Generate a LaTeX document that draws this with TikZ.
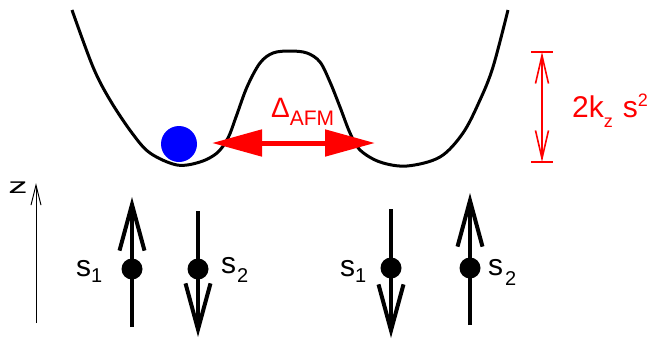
\documentclass[tikz,border=0pt]{standalone}
\usepackage{fontspec}
\setmainfont{Liberation Sans}
\usetikzlibrary{arrows.meta}
\begin{document}
\begin{tikzpicture}[x=1pt,y=-1pt,
  spinarrow/.style={line width=4pt,-{Straight Barb[length=46pt,width=25pt]}},
  spindot/.style={circle,fill=black,inner sep=0pt,minimum size=21pt},
  spinlbl/.style={inner sep=0pt,anchor=base west,font=\fontsize{30}{32}\selectfont},
  redtxt/.style={inner sep=0pt,anchor=base west,text=red}]
\useasboundingbox (0,0) rectangle (651,338);
% potential curve
\draw[line width=3pt,line join=round] plot[smooth,tension=0.55] coordinates {
 (72,10) (93,67) (110,100) (132,133) (150,153) (177,165) (200,162) (217,153)
 (228,138) (236,117) (247,87) (260,63) (273,53) (290,51) (307,53) (320,62)
 (330,82) (340,107) (350,133) (360,150) (380,162) (407,166) (440,157)
 (463,133) (480,100) (493,67) (508,10)};
% ball
\node[circle,fill=blue,inner sep=0pt,minimum size=36pt] (ball) at (179,144) {};
% Delta AFM arrow
\coordinate (dL) at (212,143);
\coordinate (dR) at (375,143);
\draw[red,line width=5pt,{Triangle[length=50pt,width=26pt]}-{Triangle[length=50pt,width=26pt]}] (dL) -- (dR);
\node[redtxt,font=\fontsize{28}{30}\selectfont] (delta) at (271,117)
  {Δ\raisebox{-8pt}{\fontsize{21}{21}\selectfont AFM}};
% 2kz s^2 bar
\coordinate (bT) at (542,52);
\coordinate (bB) at (542,162);
\coordinate (bTl) at (531,52); \coordinate (bTr) at (553,52);
\coordinate (bBl) at (531,162); \coordinate (bBr) at (553,162);
\draw[red,line width=2pt] (bTl) -- (bTr);
\draw[red,line width=2pt] (bBl) -- (bBr);
\draw[red,line width=1.6pt,{Straight Barb[length=28pt,width=13pt]}-{Straight Barb[length=28pt,width=13pt]}] (bT) -- (bB);
\node[redtxt,font=\fontsize{30}{32}\selectfont] (energy) at (572,117)
  {2k\raisebox{-10pt}{\fontsize{18}{18}\selectfont z}\hspace{10pt}s\raisebox{11pt}{\fontsize{18}{18}\selectfont 2}};
% z axis
\coordinate (zB) at (36,323);
\coordinate (zT) at (36,183);
\draw[line width=1pt,-{Straight Barb[length=20pt,width=10pt]}] (zB) -- (zT);
\node[inner sep=0pt,anchor=base,font=\fontsize{22}{24}\selectfont] (zlbl) at (18,193) {\scalebox{1.75}[1]{z}};
% spins, left pair
\coordinate (a1t) at (132,327); \coordinate (a1h) at (132,197);
\coordinate (a2t) at (198,211); \coordinate (a2h) at (198,337);
\draw[spinarrow] (a1t) -- (a1h);
\draw[spinarrow] (a2t) -- (a2h);
\node[spindot] (d1) at (132,269) {};
\node[spindot] (d2) at (198,269) {};
\node[spinlbl] (l1) at (76,276) {s\raisebox{-6pt}{\fontsize{20}{20}\selectfont 1}};
\node[spinlbl] (l2) at (221,273) {s\hspace{1pt}\raisebox{-9pt}{\fontsize{20}{20}\selectfont 2}};
% spins, right pair
\coordinate (b1t) at (391,209); \coordinate (b1h) at (391,338);
\coordinate (b2t) at (470,325); \coordinate (b2h) at (470,193);
\draw[spinarrow] (b1t) -- (b1h);
\draw[spinarrow] (b2t) -- (b2h);
\node[spindot] (d3) at (391,268) {};
\node[spindot] (d4) at (470,268) {};
\node[spinlbl] (l3) at (340,276) {s\raisebox{-6pt}{\fontsize{20}{20}\selectfont 1}};
\node[spinlbl] (l4) at (488,275) {s\hspace{2pt}\raisebox{-10pt}{\fontsize{20}{20}\selectfont 2}};
\end{tikzpicture}
\end{document}
